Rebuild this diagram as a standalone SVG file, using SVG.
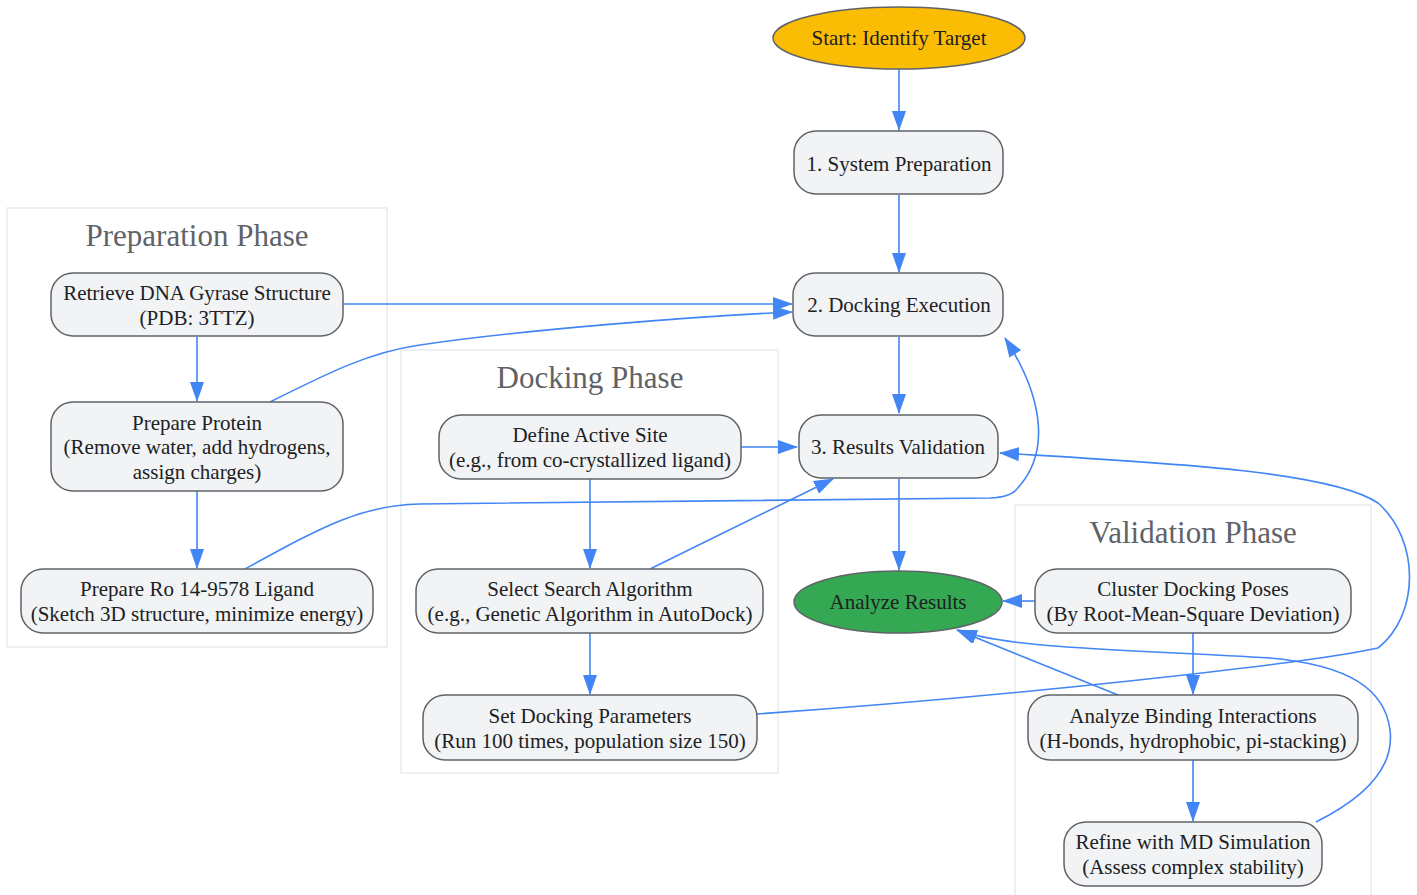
<svg xmlns="http://www.w3.org/2000/svg" width="1417" height="895" viewBox="0 0 1417 895">
<defs>
<marker id="arr" markerUnits="userSpaceOnUse" viewBox="0 0 20 14" markerWidth="20" markerHeight="14" refX="19" refY="7" orient="auto">
<path d="M0,0 L20,7 L0,14 z" fill="#4285f4"/>
</marker>
<style>
.cluster{fill:#ffffff;stroke:#e8eaed;stroke-width:1.5}
.ctitle{font-family:"Liberation Serif",serif;font-size:31px;fill:#5f6368;text-anchor:middle}
.node rect{fill:#f1f3f4;stroke:#5f6368;stroke-width:1.5}
.node text,.oval text{font-family:"Liberation Serif",serif;font-size:21px;fill:#202124;text-anchor:middle;dominant-baseline:central}
.oval ellipse{stroke:#5f6368;stroke-width:1.5}
#edges path{fill:none;stroke:#4285f4;stroke-width:1.6;marker-end:url(#arr)}
</style>
</defs>
<rect width="1417" height="895" fill="#ffffff"/>

<g id="cluster-prep">
<rect class="cluster" x="7" y="208" width="380" height="439"/>
<text class="ctitle" x="197" y="246">Preparation Phase</text>
</g>
<g id="cluster-dock">
<rect class="cluster" x="401" y="350" width="377" height="423"/>
<text class="ctitle" x="590" y="388">Docking Phase</text>
</g>
<g id="cluster-valid">
<rect class="cluster" x="1015" y="505" width="356" height="400"/>
<text class="ctitle" x="1193" y="543">Validation Phase</text>
</g>

<g id="edges">
<path d="M899,69 L899,130"/>
<path d="M899,195 L899,272"/>
<path d="M343,304 L792,304"/>
<path d="M270,402 C330,372 370,352 420,345 C520,330 700,316 792,312"/>
<path d="M245,569 C320,528 360,505 420,504 L990,498 Q1010,497 1016,490 C1050,455 1045,400 1005,338"/>
<path d="M899,337 L899,413"/>
<path d="M741,447 L797,447"/>
<path d="M650,569 L833,479"/>
<path d="M757,714 C1000,697 1300,665 1378,648 C1420,615 1420,540 1378,503 C1330,470 1150,462 1000,453"/>
<path d="M197,337 L197,401"/>
<path d="M197,491 L197,568"/>
<path d="M590,479 L590,568"/>
<path d="M590,633 L590,694"/>
<path d="M899,479 L899,570"/>
<path d="M1035,601 L1003,601"/>
<path d="M1193,633 L1193,694"/>
<path d="M1118,695 L957,630"/>
<path d="M1193,760 L1193,821"/>
<path d="M1316,822 C1360,800 1395,770 1390,730 C1385,690 1350,665 1270,658 C1150,650 1010,650 958,630"/>
</g>

<g id="start" class="oval">
<ellipse cx="899" cy="38" rx="126" ry="31" fill="#fbbc04"/>
<text x="899" y="38">Start: Identify Target</text>
</g>
<g id="sysprep" class="node">
<rect x="794" y="131" width="209" height="63" rx="22"/>
<text x="899" y="164">1. System Preparation</text>
</g>
<g id="dockexec" class="node">
<rect x="793" y="273" width="210" height="63" rx="22"/>
<text x="899" y="305">2. Docking Execution</text>
</g>
<g id="resval" class="node">
<rect x="799" y="415" width="199" height="63" rx="22"/>
<text x="898" y="447">3. Results Validation</text>
</g>
<g id="analyze" class="oval">
<ellipse cx="898" cy="602" rx="104" ry="31" fill="#34a853"/>
<text x="898" y="602">Analyze Results</text>
</g>
<g id="retrieve" class="node">
<rect x="51" y="273" width="292" height="63" rx="22"/>
<text x="197" y="293">Retrieve DNA Gyrase Structure</text>
<text x="197" y="318">(PDB: 3TTZ)</text>
</g>
<g id="protein" class="node">
<rect x="51" y="402" width="292" height="89" rx="22"/>
<text x="197" y="423">Prepare Protein</text>
<text x="197" y="447">(Remove water, add hydrogens,</text>
<text x="197" y="472">assign charges)</text>
</g>
<g id="ligand" class="node">
<rect x="21" y="569" width="352" height="64" rx="22"/>
<text x="197" y="589">Prepare Ro 14-9578 Ligand</text>
<text x="197" y="614">(Sketch 3D structure, minimize energy)</text>
</g>
<g id="define" class="node">
<rect x="439" y="415" width="302" height="64" rx="22"/>
<text x="590" y="435">Define Active Site</text>
<text x="590" y="460">(e.g., from co-crystallized ligand)</text>
</g>
<g id="select" class="node">
<rect x="416" y="569" width="347" height="64" rx="22"/>
<text x="590" y="589">Select Search Algorithm</text>
<text x="590" y="614">(e.g., Genetic Algorithm in AutoDock)</text>
</g>
<g id="setparams" class="node">
<rect x="423" y="695" width="334" height="65" rx="22"/>
<text x="590" y="716">Set Docking Parameters</text>
<text x="590" y="741">(Run 100 times, population size 150)</text>
</g>
<g id="cluster" class="node">
<rect x="1035" y="569" width="316" height="64" rx="22"/>
<text x="1193" y="589">Cluster Docking Poses</text>
<text x="1193" y="614">(By Root-Mean-Square Deviation)</text>
</g>
<g id="binding" class="node">
<rect x="1028" y="695" width="330" height="65" rx="22"/>
<text x="1193" y="716">Analyze Binding Interactions</text>
<text x="1193" y="741">(H-bonds, hydrophobic, pi-stacking)</text>
</g>
<g id="refine" class="node">
<rect x="1064" y="822" width="258" height="64" rx="22"/>
<text x="1193" y="842">Refine with MD Simulation</text>
<text x="1193" y="867">(Assess complex stability)</text>
</g>
</svg>
